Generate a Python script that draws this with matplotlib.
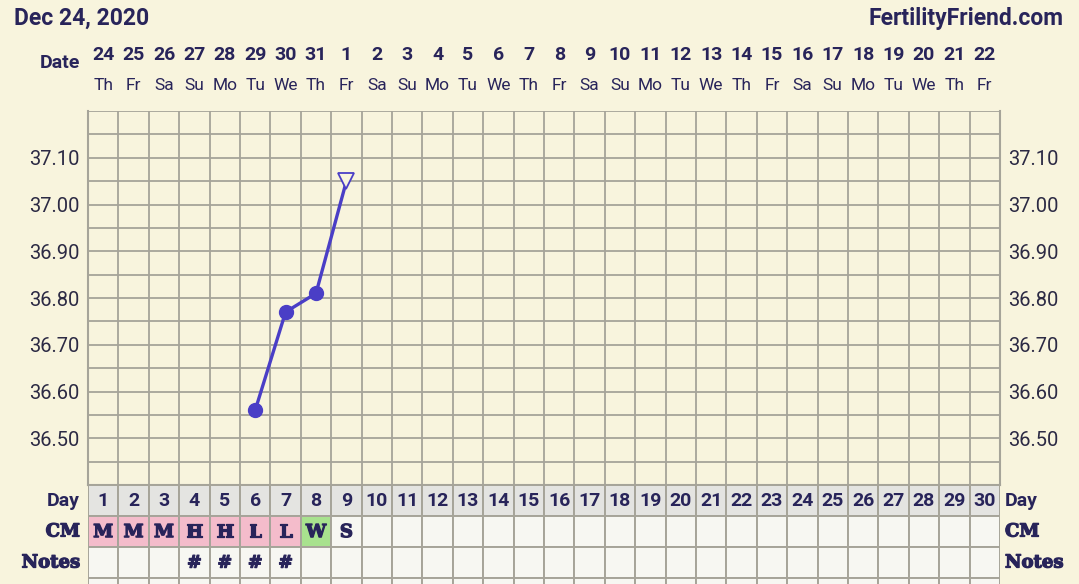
import matplotlib
matplotlib.use("Agg")
import matplotlib.pyplot as plt
import matplotlib.patheffects as pe
import numpy as np
from matplotlib.patches import Rectangle
from matplotlib.transforms import blended_transform_factory

# chart data
title_left = "Dec 24, 2020"
title_right = "FertilityFriend.com"
dates = ["24", "25", "26", "27", "28", "29", "30", "31", "1", "2", "3", "4", "5", "6", "7",
         "8", "9", "10", "11", "12", "13", "14", "15", "16", "17", "18", "19", "20", "21", "22"]
weekdays = ["Th", "Fr", "Sa", "Su", "Mo", "Tu", "We", "Th", "Fr", "Sa", "Su", "Mo", "Tu", "We", "Th",
            "Fr", "Sa", "Su", "Mo", "Tu", "We", "Th", "Fr", "Sa", "Su", "Mo", "Tu", "We", "Th", "Fr"]
cycle_days = list(range(1, 31))
temp_days = [6, 7, 8]
temps = [36.56, 36.77, 36.81]
open_day = 9
open_temp = 37.05
cm_values = ["M", "M", "M", "H", "H", "L", "L", "W", "S"]
note_days = [4, 5, 6, 7]
temp_ticks = [36.50, 36.60, 36.70, 36.80, 36.90, 37.00, 37.10]

# colours
BG = "#f8f4dd"
GRID = "#a6a499"
NAVY = "#28245a"
LINE = "#4a3ec6"
CM_COLORS = {"M": "#f4bccb", "H": "#f4bccb", "L": "#f4bccb", "W": "#a8e28e", "S": "#f7f7f2"}
DAY_BG = "#e4e4e1"
CELL_BG = "#f7f7f2"

# slab serif stand-in, thickened a little
heavy = [pe.withStroke(linewidth=0.9, foreground=NAVY)]

W, H = 1079, 584
fig = plt.figure(figsize=(W / 100, H / 100), dpi=100, facecolor=BG)

# temperature grid
ax = fig.add_axes([88 / W, (H - 485) / H, 912 / W, 374 / H])
ax.set_facecolor(BG)
ax.set_xlim(0.5, 30.5)
ax.set_ylim(36.40, 37.20)
ax.set_xticks(np.arange(0.5, 31, 1.0), minor=True)
ax.set_xticks([])
ax.set_yticks(np.arange(36.40, 37.21, 0.05), minor=True)
ax.set_yticks(temp_ticks)
ax.set_yticklabels([f"{t:.2f}" for t in temp_ticks])
ax.tick_params(axis="y", which="both", length=0, labelright=True, labelsize=14.5,
               labelcolor="#2c2a44", pad=6)
ax.tick_params(axis="x", which="both", length=0)
for lab in ax.get_yticklabels():
    lab.set_fontfamily("Roboto")
ax.grid(which="both", color=GRID, linewidth=1.3)
ax.set_axisbelow(True)
for sp in ax.spines.values():
    sp.set_color(GRID)
    sp.set_linewidth(1.5)
ax.spines["top"].set_visible(False)

ax.plot(temp_days + [open_day], temps + [open_temp], color=LINE, linewidth=2.4, zorder=3)
ax.plot(temp_days, temps, "o", color=LINE, markersize=10, zorder=4)
ax.plot([open_day], [open_temp], "v", markerfacecolor=BG, markeredgecolor=LINE,
        markeredgewidth=1.3, markersize=12, zorder=4)

# header rows above the grid
tr = blended_transform_factory(ax.transData, fig.transFigure)
for d, num, wd in zip(cycle_days, dates, weekdays):
    ax.text(d, (H - 55) / H, num, transform=tr, ha="center", va="center", fontsize=14,
            fontweight="bold", color=NAVY, fontfamily="Roboto")
    ax.text(d, (H - 86) / H, wd, transform=tr, ha="center", va="center", fontsize=12.5,
            color=NAVY, fontfamily="Roboto")
fig.text(80 / W, (H - 63) / H, "Date", ha="right", va="center", fontsize=14,
         fontweight="bold", color=NAVY, fontfamily="Roboto")
fig.text(14 / W, (H - 18) / H, title_left, ha="left", va="center", fontsize=16.5,
         fontweight="bold", color=NAVY, fontfamily="Roboto")
fig.text(1064 / W, (H - 18) / H, title_right, ha="right", va="center", fontsize=16.5,
         fontweight="bold", color=NAVY, fontfamily="Roboto")

# table rows below the grid
row_h = 31
tab = fig.add_axes([88 / W, 0, 912 / W, 99 / H])
tab.set_xlim(0.5, 30.5)
tab.set_ylim(99 / row_h, 0)
tab.axis("off")
for d in cycle_days:
    tab.add_patch(Rectangle((d - 0.5, 0), 1, 1, facecolor=DAY_BG, edgecolor=GRID, linewidth=1.4))
    tab.text(d, 0.52, str(d), ha="center", va="center", fontsize=14, fontweight="bold",
             color=NAVY, fontfamily="Roboto")
    if d <= len(cm_values):
        v = cm_values[d - 1]
        tab.add_patch(Rectangle((d - 0.5, 1), 1, 1, facecolor=CM_COLORS[v], edgecolor=GRID, linewidth=1.4))
        tab.text(d, 1.52, v, ha="center", va="center", fontsize=13, fontweight="bold",
                 color=NAVY, fontfamily="DejaVu Serif", path_effects=heavy)
    else:
        tab.add_patch(Rectangle((d - 0.5, 1), 1, 1, facecolor=CELL_BG, edgecolor=GRID, linewidth=1.4))
    tab.add_patch(Rectangle((d - 0.5, 2), 1, 1, facecolor=CELL_BG, edgecolor=GRID, linewidth=1.4))
    tab.add_patch(Rectangle((d - 0.5, 3), 1, 1, facecolor=CELL_BG, edgecolor=GRID, linewidth=1.4))
    if d in note_days:
        tab.text(d, 2.52, "#", ha="center", va="center", fontsize=12.5, fontweight="bold",
                 color=NAVY, fontfamily="DejaVu Serif", path_effects=heavy)

row_labels = [("Day", "Roboto", 0.5), ("CM", "DejaVu Serif", 1.5), ("Notes", "DejaVu Serif", 2.5)]
for name, fam, yy in row_labels:
    size = 14 if fam == "Roboto" else 13
    fx = [] if fam == "Roboto" else heavy
    tab.text(0.5 - 8 / 30.4, yy, name, ha="right", va="center", fontsize=size,
             fontweight="bold", color=NAVY, fontfamily=fam, clip_on=False, path_effects=fx)
    tab.text(30.5 + 5 / 30.4, yy, name, ha="left", va="center", fontsize=size,
             fontweight="bold", color=NAVY, fontfamily=fam, clip_on=False, path_effects=fx)

fig.savefig("out.png", dpi=100, facecolor=BG)
